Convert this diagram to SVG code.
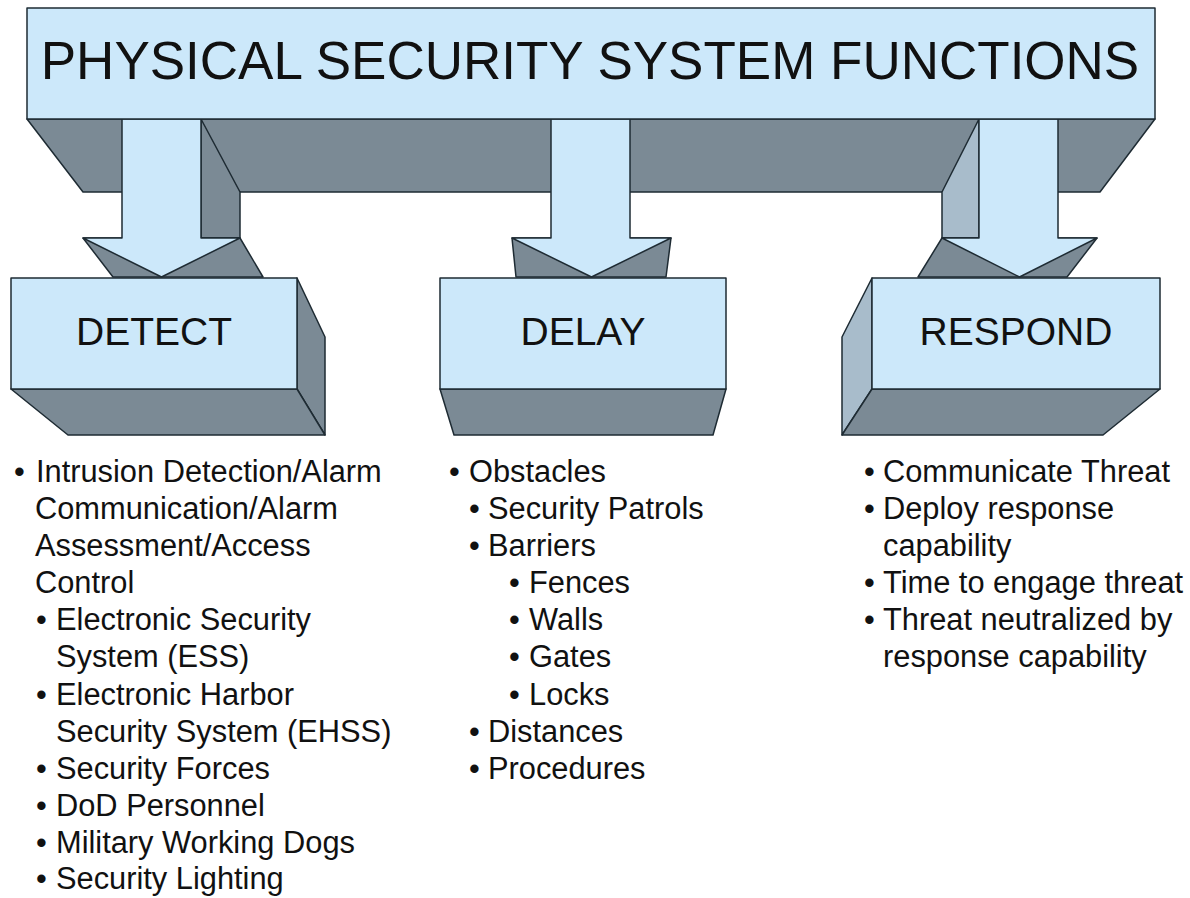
<svg xmlns="http://www.w3.org/2000/svg" width="1190" height="898" viewBox="0 0 1190 898">
<style>
.f{fill:#cce8fa;stroke:#1e2b33;stroke-width:1.5;stroke-linejoin:round}
.d{fill:#7b8a95;stroke:#1e2b33;stroke-width:1.5;stroke-linejoin:round}
.l{fill:#a8bccb;stroke:#1e2b33;stroke-width:1.5;stroke-linejoin:round}
text{font-family:"Liberation Sans",Arial,sans-serif;fill:#111}
.t{font-size:53px}
.h{font-size:39px}
.u{font-size:30.8px}
</style>
<rect width="1190" height="898" fill="#ffffff"/>
<g id="connectors">
<polygon class="d" points="27,119 1155,119 1100,192 83,192"/>
<g id="arrow-detect">
<polygon class="d" points="201,119 240,192 240,238 201,238"/>
<polygon class="d" points="83,238 240,238 263,277 113,277"/>
<polygon class="f" points="122,119 201,119 201,238 240,238 161.5,277 83,238 122,238"/>
</g>
<g id="arrow-delay">
<polygon class="d" points="512,238 671,238 666,277 516,277"/>
<polygon class="f" points="551,119 630,119 630,238 671,238 591.5,277 512,238 551,238"/>
</g>
<g id="arrow-respond">
<polygon class="l" points="979,119 942,192 942,238 979,238"/>
<polygon class="d" points="942,238 1097,238 1067,277 918,277"/>
<polygon class="f" points="979,119 1058,119 1058,238 1097,238 1019.5,277 942,238 979,238"/>
</g>
</g>
<g id="title">
<rect class="f" x="27" y="8" width="1128" height="111"/>
<text class="t" x="590" y="79" text-anchor="middle">PHYSICAL SECURITY SYSTEM FUNCTIONS</text>
</g>
<g id="detect">
<polygon class="d" points="297,278 325,337 325,435 297,389"/>
<polygon class="d" points="11,389 297,389 325,435 68,435"/>
<rect class="f" x="11" y="278" width="286" height="111"/>
<text class="h" x="154" y="345" text-anchor="middle">DETECT</text>
</g>
<g id="delay">
<polygon class="d" points="440,389 726,389 713,435 454,435"/>
<rect class="f" x="440" y="278" width="286" height="111"/>
<text class="h" x="583" y="345" text-anchor="middle">DELAY</text>
</g>
<g id="respond">
<polygon class="l" points="872,278 842,337 842,435 872,389"/>
<polygon class="d" points="872,389 1160,389 1103,435 842,435"/>
<rect class="f" x="872" y="278" width="288" height="111"/>
<text class="h" x="1016" y="345" text-anchor="middle">RESPOND</text>
</g>
<g id="detect-list" class="u">
<text y="482"><tspan x="14">•</tspan><tspan x="36">Intrusion Detection/Alarm</tspan></text>
<text x="35" y="519">Communication/Alarm</text>
<text x="35" y="556">Assessment/Access</text>
<text x="35" y="593">Control</text>
<text y="630"><tspan x="36">•</tspan><tspan x="56">Electronic Security</tspan></text>
<text x="56" y="667">System (ESS)</text>
<text y="705"><tspan x="36">•</tspan><tspan x="56">Electronic Harbor</tspan></text>
<text x="56" y="742">Security System (EHSS)</text>
<text y="779"><tspan x="36">•</tspan><tspan x="56">Security Forces</tspan></text>
<text y="816"><tspan x="36">•</tspan><tspan x="56">DoD Personnel</tspan></text>
<text y="853"><tspan x="36">•</tspan><tspan x="56">Military Working Dogs</tspan></text>
<text y="889"><tspan x="36">•</tspan><tspan x="56">Security Lighting</tspan></text>
</g>
<g id="delay-list" class="u">
<text y="482"><tspan x="449">•</tspan><tspan x="469">Obstacles</tspan></text>
<text y="519"><tspan x="469">•</tspan><tspan x="488">Security Patrols</tspan></text>
<text y="556"><tspan x="469">•</tspan><tspan x="488">Barriers</tspan></text>
<text y="593"><tspan x="509">•</tspan><tspan x="529">Fences</tspan></text>
<text y="630"><tspan x="509">•</tspan><tspan x="529">Walls</tspan></text>
<text y="667"><tspan x="509">•</tspan><tspan x="529">Gates</tspan></text>
<text y="705"><tspan x="509">•</tspan><tspan x="529">Locks</tspan></text>
<text y="742"><tspan x="469">•</tspan><tspan x="488">Distances</tspan></text>
<text y="779"><tspan x="469">•</tspan><tspan x="488">Procedures</tspan></text>
</g>
<g id="respond-list" class="u">
<text y="482"><tspan x="864">•</tspan><tspan x="883">Communicate Threat</tspan></text>
<text y="519"><tspan x="864">•</tspan><tspan x="883">Deploy response</tspan></text>
<text x="883" y="556">capability</text>
<text y="593"><tspan x="864">•</tspan><tspan x="883">Time to engage threat</tspan></text>
<text y="630"><tspan x="864">•</tspan><tspan x="883">Threat neutralized by</tspan></text>
<text x="883" y="667">response capability</text>
</g>
</svg>
